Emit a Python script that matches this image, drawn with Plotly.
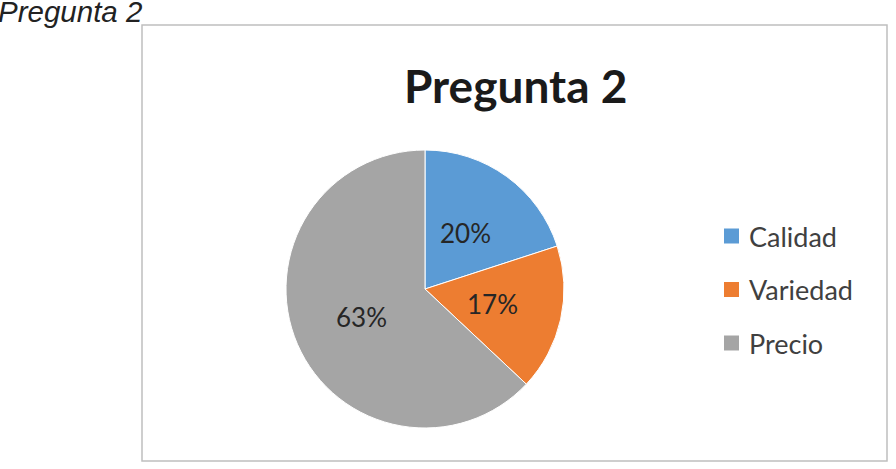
import math
import plotly.graph_objects as go

W, H = 896, 469

labels = ["Calidad", "Variedad", "Precio"]
values = [20, 17, 63]
colors = ["#5B9BD5", "#ED7D31", "#A5A5A5"]
chart_title = "Pregunta 2"
caption = "Pregunta 2"


def px(x):
    return x / W


def py(y):
    return 1 - y / H


# pie placement (pixels)
CX, CY, R = 425, 289, 139

fig = go.Figure()

fig.add_trace(go.Pie(
    labels=labels,
    values=values,
    sort=False,
    direction="clockwise",
    rotation=0,
    marker=dict(colors=colors, line=dict(color="white", width=1)),
    textinfo="none",
    domain=dict(x=[px(CX - R), px(CX + R)], y=[py(CY + R), py(CY - R)]),
    showlegend=False,
    hoverinfo="label+percent",
))

shapes = [
    dict(type="rect", xref="paper", yref="paper",
         x0=px(142), x1=px(887), y0=py(461), y1=py(25),
         line=dict(color="#BFBFBF", width=1.5), fillcolor="rgba(0,0,0,0)", layer="below"),
]
annotations = [
    dict(text=f"<b>{chart_title}</b>", xref="paper", yref="paper",
         x=px(515), y=py(86), xanchor="center", yanchor="middle", showarrow=False,
         font=dict(family="Lato", size=46, color="#1a1a1a")),
    dict(text=f"<i>{caption}</i>", xref="paper", yref="paper",
         x=px(-4), y=py(11), xanchor="left", yanchor="middle", showarrow=False,
         font=dict(family="Liberation Sans", size=29.5, color="#222222")),
]

# data labels at half radius of each slice's mid-angle (Excel "center" placement)
total = sum(values)
cum = 0
for v in values:
    mid = (cum + v / 2) / total * 2 * math.pi
    cum += v
    lx = CX + 0.5 * R * math.sin(mid)
    ly = CY - 0.5 * R * math.cos(mid)
    annotations.append(dict(text=f"{round(100 * v / total)}%", xref="paper", yref="paper",
                            x=px(lx), y=py(ly), xanchor="center", yanchor="middle",
                            showarrow=False,
                            font=dict(family="Lato", size=26, color="#262626")))

# manual legend
for i, (lab, col) in enumerate(zip(labels, colors)):
    yc = 236 + i * 53.5
    shapes.append(dict(type="rect", xref="paper", yref="paper",
                       x0=px(724), x1=px(739), y0=py(yc + 7.5), y1=py(yc - 7.5),
                       fillcolor=col, line=dict(width=0)))
    annotations.append(dict(text=lab, xref="paper", yref="paper",
                            x=px(747), y=py(yc), xanchor="left", yanchor="middle",
                            showarrow=False,
                            font=dict(family="Lato", size=27, color="#404040")))

fig.update_layout(
    width=W, height=H,
    margin=dict(l=0, r=0, t=0, b=0),
    paper_bgcolor="white", plot_bgcolor="white",
    shapes=shapes, annotations=annotations,
)

fig.write_html("out.html")
